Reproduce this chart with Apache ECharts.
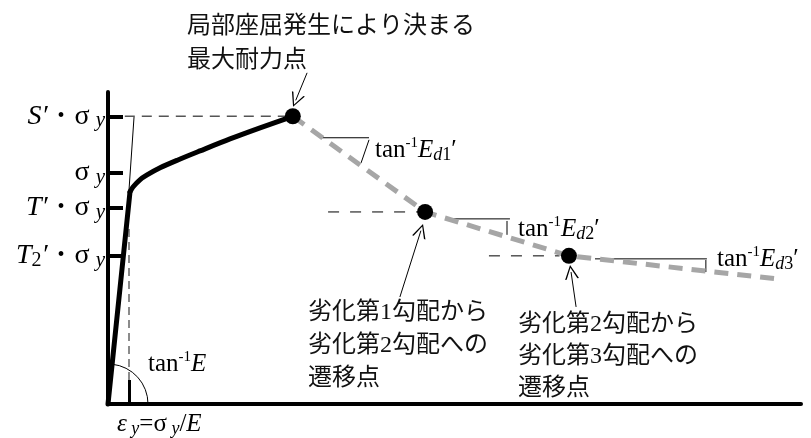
<!DOCTYPE html>
<html>
<head>
<meta charset="utf-8">
<script src="https://cdn.jsdelivr.net/npm/echarts@6/dist/echarts.min.js"></script>
<style>
  html, body { margin: 0; padding: 0; background: #fff; }
  #main { width: 811px; height: 438px; }
</style>
</head>
<body>
<div id="main"></div>
<script>
// 横軸 ε/εy, 縦軸 σ/σy で読み取った値
const elasticEps = [0, 1.048];
const elasticSig = [0, 0.918];
const hardenEps = [1.048, 1.19, 1.52, 1.86, 2.48, 3.33, 4.38, 5.81, 7.24, 8.8];
const hardenSig = [0.918, 0.939, 0.970, 0.991, 1.022, 1.056, 1.095, 1.147, 1.195, 1.245];
const tangentEps = [0.95, 1.24];
const tangentSig = [0.86, 1.242];
const degradeEps = [8.8, 15.1, 21.95, 31.9];
const degradeSig = [1.245, 0.831, 0.641, 0.541];
const keyPoints = [0, 1, 2]; // degrade の何番目に黒丸を置くか

// 目盛り
const yTickValues = [1.245, 1.0, 0.848, 0.64];
const yTickNames = ["S", "", "T", "T2"];
const xTickValues = [1];

// 破線の補助線
const guideEps = [[0.8, 8.8], [10.48, 14.86], [18.14, 21.5]];
const guideSig = [1.245, 0.831, 0.641];
const yieldGuideEps = [1, 1];
const yieldGuideSig = [0.104, 0.762];

// 勾配記号
const slopeRunEps = [[10.19, 12.43], [16.24, 19.14], [23.19, 28.52]];
const slopeRunSig = [1.152, 0.801, 0.628];
const slopeRiseEps = [[12.43, 12.05], [19.0, 19.0], [28.47, 28.47]];
const slopeRiseSig = [[1.143, 1.043], [0.792, 0.732], [0.623, 0.571]];

// 引出し矢印
const arrowTailEps = [9.48, 13.9, 22.29];
const arrowTailSig = [1.433, 0.463, 0.42];
const arrowHeadEps = [8.94, 14.9, 22.05];
const arrowHeadSig = [1.314, 0.750, 0.571];

const slopeNames = ["1", "2", "3"];

const serif = "'Liberation Serif', 'Times New Roman', serif";
const jpFont = "'Liberation Serif', 'Noto Sans CJK JP', sans-serif";

function zip(xs, ys) {
  return xs.map((x, i) => [x, ys[i]]);
}

function seg(xs, ys, lineStyle, z) {
  return {
    type: "line",
    data: zip(xs, ys),
    symbol: "none",
    clip: false,
    silent: true,
    z: z || 2,
    lineStyle: lineStyle,
  };
}

const chart = echarts.init(document.getElementById("main"));

const series = [];

// 弾性域 + 硬化域
series.push(seg(elasticEps, elasticSig, { color: "#000", width: 5, cap: "round" }, 4));
series.push(Object.assign(seg(hardenEps, hardenSig, { color: "#000", width: 5, cap: "round" }, 4), { smooth: 0.3 }));
series.push(seg(tangentEps, tangentSig, { color: "#000", width: 1 }, 3));

// 劣化域（灰色破線）
series.push(seg(degradeEps, degradeSig, { color: "#a6a6a6", width: 5, type: [14, 9] }, 3));

// 補助線
guideEps.forEach((xs, i) => {
  const style = i === 0
    ? { color: "#555", width: 1.3, type: [10, 7] }
    : { color: "#000", width: 1, type: [11, 11] };
  series.push(seg(xs, [guideSig[i], guideSig[i]], style, 2));
});
series.push(seg(yieldGuideEps, yieldGuideSig, { color: "#666", width: 1.5, type: [8, 5] }, 2));

// 勾配記号
slopeRunEps.forEach((xs, i) => {
  series.push(seg(xs, [slopeRunSig[i], slopeRunSig[i]], { color: "#000", width: 1 }, 2));
  series.push(seg(slopeRiseEps[i], slopeRiseSig[i], { color: "#000", width: 1 }, 2));
});

// 黒丸
series.push({
  type: "scatter",
  data: keyPoints.map((k) => [degradeEps[k], degradeSig[k]]),
  symbolSize: 16,
  itemStyle: { color: "#000", opacity: 1 },
  silent: true,
  z: 6,
});

// 矢印
series.push({
  type: "lines",
  coordinateSystem: "cartesian2d",
  clip: false,
  silent: true,
  z: 5,
  symbol: ["none", "path://M4,0 L8,14 L7.1,14 L4,2.6 L0.9,14 L0,14 Z"],
  symbolSize: [8, 14],
  lineStyle: { color: "#000", width: 1, opacity: 1 },
  data: arrowTailEps.map((x, i) => ({
    coords: [[x, arrowTailSig[i]], [arrowHeadEps[i], arrowHeadSig[i]]],
  })),
});

// 弾性勾配の円弧
series.push({
  type: "custom",
  silent: true,
  clip: false,
  data: [[elasticEps[0], elasticSig[0]]],
  renderItem: function (params, api) {
    const o = api.coord([elasticEps[0], elasticSig[0]]);
    const e = api.coord([elasticEps[1], elasticSig[1]]);
    const ang = Math.atan2(e[1] - o[1], e[0] - o[0]);
    return {
      type: "arc",
      shape: { cx: o[0], cy: o[1], r: 40, startAngle: ang, endAngle: 0, clockwise: true },
      style: { stroke: "#000", lineWidth: 1, fill: null },
    };
  },
});

const mathRich = {
  t: { fontFamily: serif, fontSize: 25, lineHeight: 28, color: "#000" },
  sup: { fontFamily: serif, fontSize: 15, lineHeight: 15, verticalAlign: "top", color: "#000" },
  E: { fontFamily: serif, fontSize: 25, lineHeight: 28, fontStyle: "italic", color: "#000" },
  sd: { fontFamily: serif, fontSize: 18, lineHeight: 25, fontStyle: "italic", verticalAlign: "bottom", color: "#000" },
  sn: { fontFamily: serif, fontSize: 18, lineHeight: 25, verticalAlign: "bottom", color: "#000" },
  p: { fontFamily: serif, fontSize: 25, lineHeight: 28, color: "#000" },
};

function tanText(n) {
  return "{t|tan}{sup|-1}{E|E}{sd|d}{sn|" + n + "}{p|′}";
}

const graphic = [
  { type: "text", x: 187, y: 10, style: { text: "局部座屈発生により決まる\n最大耐力点", font: "24px " + jpFont, lineHeight: 34, fill: "#111", verticalAlign: "top" } },
  { type: "text", x: 308, y: 296, style: { text: "劣化第1勾配から\n劣化第2勾配への\n遷移点", font: "24px " + jpFont, lineHeight: 33, fill: "#111", verticalAlign: "top" } },
  { type: "text", x: 518, y: 309, style: { text: "劣化第2勾配から\n劣化第3勾配への\n遷移点", font: "24px " + jpFont, lineHeight: 32, fill: "#111", verticalAlign: "top" } },
  { type: "text", x: 375, y: 150, style: { text: tanText(slopeNames[0]), rich: mathRich, verticalAlign: "middle" } },
  { type: "text", x: 518, y: 229, style: { text: tanText(slopeNames[1]), rich: mathRich, verticalAlign: "middle" } },
  { type: "text", x: 717, y: 259, style: { text: tanText(slopeNames[2]), rich: mathRich, verticalAlign: "middle" } },
  { type: "text", x: 148, y: 364, style: { text: "{t|tan}{sup|-1}{E|E}", rich: mathRich, verticalAlign: "middle" } },
  { type: "text", x: 117, y: 424, style: { text: "{E|ε}{sd| y}{t|=σ}{sd| y}{t|/}{E|E}", rich: mathRich, verticalAlign: "middle" } },
];

const option = {
  animation: false,
  grid: { left: 108, right: 10, top: 92, bottom: 34 },
  xAxis: {
    type: "value",
    min: 0,
    max: 33,
    axisLine: { lineStyle: { color: "#000", width: 4 } },
    axisTick: { show: true, inside: true, length: 24, customValues: xTickValues, lineStyle: { color: "#000", width: 3 } },
    axisLabel: { show: false },
    splitLine: { show: false },
  },
  yAxis: {
    type: "value",
    min: 0,
    max: 1.35,
    axisLine: { show: true, lineStyle: { color: "#000", width: 4 } },
    axisTick: { show: true, inside: true, length: 15, customValues: yTickValues, lineStyle: { color: "#000", width: 4 } },
    axisLabel: {
      show: true,
      customValues: yTickValues,
      margin: 3,
      formatter: function (v) {
        const i = yTickValues.indexOf(v);
        const name = yTickNames[i];
        let head = "";
        if (name) {
          head = "{i|" + name[0] + "}" + (name.length > 1 ? "{n|" + name.slice(1) + "}" : "") + "{i|′}{d|  •  }";
        }
        return head + "{s|σ}{y|y}";
      },
      rich: {
        i: { fontFamily: serif, fontSize: 28, lineHeight: 30, fontStyle: "italic", color: "#000" },
        n: { fontFamily: serif, fontSize: 20, lineHeight: 26, verticalAlign: "bottom", color: "#000" },
        d: { fontFamily: serif, fontSize: 20, lineHeight: 30, color: "#000" },
        s: { fontFamily: serif, fontSize: 28, lineHeight: 30, color: "#000" },
        y: { fontFamily: serif, fontSize: 21, lineHeight: 28, fontStyle: "italic", verticalAlign: "bottom", padding: [0, 0, 0, 6], color: "#000" },
      },
    },
    splitLine: { show: false },
  },
  series: series,
  graphic: graphic,
};

chart.setOption(option);
</script>
</body>
</html>
